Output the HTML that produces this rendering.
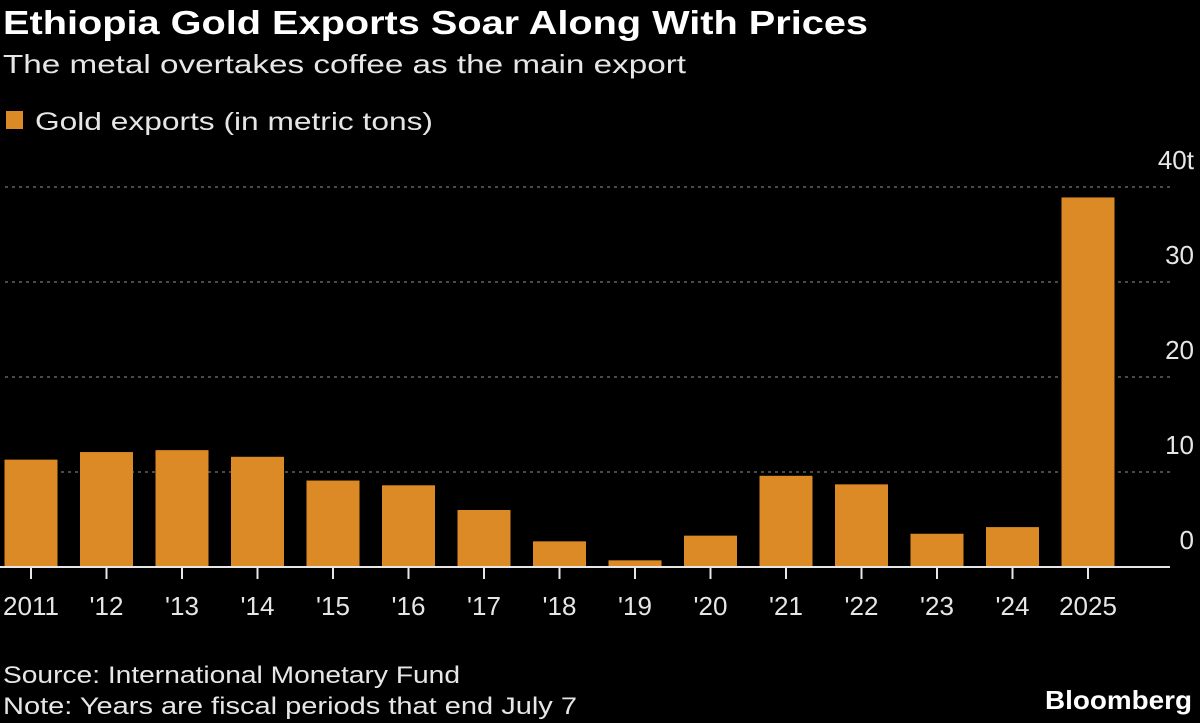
<!DOCTYPE html>
<html><head><meta charset="utf-8"><style>
body{margin:0;background:#000;width:1200px;height:723px;overflow:hidden;font-family:"Liberation Sans",sans-serif;color:#e6e6e6}
svg{position:absolute;left:0;top:0}
</style></head><body>
<svg width="1200" height="723">
<text x="3" y="34" font-size="33" font-weight="bold" fill="#fff" textLength="865" lengthAdjust="spacingAndGlyphs">Ethiopia Gold Exports Soar Along With Prices</text>
<text x="3" y="73" font-size="26" fill="#e6e6e6" textLength="683" lengthAdjust="spacingAndGlyphs">The metal overtakes coffee as the main export</text>
<rect x="6" y="111" width="17" height="18" fill="#dc8a26"/>
<text x="35" y="130" font-size="25" fill="#e6e6e6" textLength="398" lengthAdjust="spacingAndGlyphs">Gold exports (in metric tons)</text>
<g id="grid"></g><g id="bars"></g><g id="xaxis"></g>
<text x="3" y="683" font-size="24" fill="#e6e6e6" textLength="457" lengthAdjust="spacingAndGlyphs">Source: International Monetary Fund</text>
<text x="3" y="714" font-size="24" fill="#e6e6e6" textLength="574" lengthAdjust="spacingAndGlyphs">Note: Years are fiscal periods that end July 7</text>
<text x="1045" y="709" font-size="26" font-weight="bold" fill="#fff" textLength="147" lengthAdjust="spacingAndGlyphs">Bloomberg</text>
</svg>
<script>
const categories=["2011","'12","'13","'14","'15","'16","'17","'18","'19","'20","'21","'22","'23","'24","2025"];
const values=[11.3,12.1,12.3,11.6,9.1,8.6,6.0,2.7,0.7,3.3,9.6,8.7,3.5,4.2,38.9];
const ticks=[0,10,20,30,40];
const tickLabels=["0","10","20","30","40t"];
const NS="http://www.w3.org/2000/svg";
const y0=567,pxPer=9.5;
const y=v=>y0-v*pxPer;
const x=i=>31+i*75.5;
const bw=53;
function mk(t,a,p){const e=document.createElementNS(NS,t);for(const k in a)e.setAttribute(k,a[k]);p.appendChild(e);return e;}
const g=document.getElementById('grid'),b=document.getElementById('bars'),xa=document.getElementById('xaxis');
ticks.forEach((t,i)=>{
 if(t>0){const l=mk('line',{x1:5,x2:1170,y1:y(t),y2:y(t),stroke:'#777','stroke-width':1.3,'stroke-dasharray':'3,4'},g);
 
 }
 const tx=mk('text',{x:1194,y:y(t)-18,'font-size':26,fill:'#e6e6e6','text-anchor':'end'},g);
 tx.textContent=tickLabels[i];
 
 
});
values.forEach((v,i)=>{
 const r=mk('rect',{x:x(i)-bw/2,y:y(v),width:bw,height:v*pxPer,fill:'#dc8a26'},b);
 
 
 const tk=mk('line',{x1:x(i),x2:x(i),y1:y0,y2:y0+12,stroke:'#e6e6e6','stroke-width':2},xa);
 
 
 const tx=mk('text',{x:x(i),y:615,'font-size':26,fill:'#e6e6e6','text-anchor':'middle'},xa);
 tx.textContent=categories[i];
 
 
});
const ax=mk('line',{x1:0,x2:1170,y1:y0,y2:y0,stroke:'#e6e6e6','stroke-width':2},xa);


</script>
</body></html>
